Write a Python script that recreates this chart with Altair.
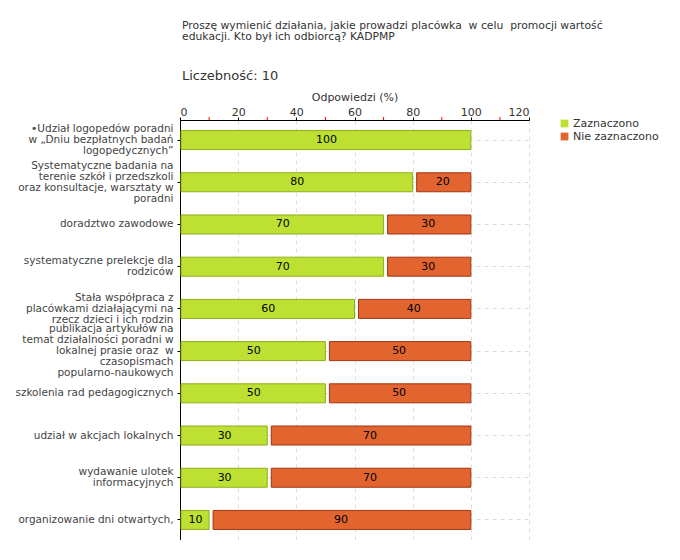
import altair as alt
import pandas as pd

categories = [
    "•Udział logopedów poradni|w „Dniu bezpłatnych badań|logopedycznych”",
    "Systematyczne badania na|terenie szkół i przedszkoli|oraz konsultacje, warsztaty w|poradni",
    "doradztwo zawodowe",
    "systematyczne prelekcje dla|rodziców",
    "Stała współpraca z|placówkami działającymi na|rzecz dzieci i ich rodzin",
    "publikacja artykułów na|temat działalności poradni w|lokalnej prasie oraz \u00a0w|czasopismach|popularno-naukowych",
    "szkolenia rad pedagogicznych",
    "udział w akcjach lokalnych",
    "wydawanie ulotek|informacyjnych",
    "organizowanie dni otwartych,",
]
zaznaczono = [100, 80, 70, 70, 60, 50, 50, 30, 30, 10]
nie_zaznaczono = [0, 20, 30, 30, 40, 50, 50, 70, 70, 90]
series = ["Zaznaczono", "Nie zaznaczono"]
fills = ["#BEE032", "#E26530"]
strokes = ["#8DAE1C", "#A33410"]
minor_ticks = [10, 30, 50, 70, 90, 110]

rows = []
for c, z, n in zip(categories, zaznaczono, nie_zaznaczono):
    rows.append({"cat": c, "series": series[0], "value": z, "start": 0, "end": z})
    if n > 0:
        rows.append({"cat": c, "series": series[1], "value": n, "start": z, "end": z + n})
df = pd.DataFrame(rows)
df["mid"] = (df["start"] + df["end"]) / 2

FONT = "DejaVu Sans"
LH = 11

xscale = alt.Scale(domain=[0, 120], nice=False)
yscale = alt.Scale(domain=categories, paddingInner=0.55, paddingOuter=0.25)

xenc = alt.X(
    "start:Q",
    scale=xscale,
    axis=alt.Axis(
        orient="top",
        title="Odpowiedzi (%)",
        values=[0, 20, 40, 60, 80, 100, 120],
        grid=True,
        gridDash=[4, 4],
        gridColor="#dddddd",
        domainColor="#000000",
        tickColor="#000000",
        tickSize=3,
        labelFont=FONT,
        labelFontSize=11,
        labelColor="#333333",
        titleFont=FONT,
        titleFontSize=11,
        titleFontWeight="normal",
        titleColor="#333333",
        titlePadding=4,
        labelPadding=0,
    ),
)

offset_cond = {
    "condition": [
        {"test": f"length(split(datum.value, '|')) == {n}", "value": -(n - 1) * LH / 2}
        for n in (2, 3, 4, 5)
    ],
    "value": 0,
}

yenc = alt.Y(
    "cat:N",
    scale=yscale,
    sort=categories,
    axis=alt.Axis(
        title=None,
        labelExpr="split(datum.label, '|')",
        labelFont=FONT,
        labelFontSize=10.5,
        labelColor="#444444",
        labelLimit=175,
        labelPadding=4,
        labelLineHeight=LH,
        labelOffset=offset_cond,
        grid=True,
        gridDash=[4, 4],
        gridColor="#dddddd",
        domainColor="#000000",
        tickColor="#000000",
        tickSize=3,
    ),
)

color = alt.Color(
    "series:N",
    scale=alt.Scale(domain=series, range=fills),
    legend=alt.Legend(
        title=None,
        orient="none",
        legendX=379,
        legendY=-2,
        symbolType="square",
        symbolSize=60,
        symbolStrokeWidth=0,
        labelFont=FONT,
        labelFontSize=11,
        labelColor="#333333",
        labelOffset=3,
        rowPadding=1,
    ),
)
stroke = alt.Stroke(
    "series:N", scale=alt.Scale(domain=series, range=strokes), legend=None
)

base = alt.Chart(df)

green = base.transform_filter(alt.datum.series == series[0]).mark_bar(
    xOffset=1, strokeWidth=1
).encode(x=xenc, x2="end:Q", y=yenc, color=color, stroke=stroke)

orange = base.transform_filter(alt.datum.series == series[1]).mark_bar(
    xOffset=4, strokeWidth=1
).encode(x=xenc, x2="end:Q", y=yenc, color=color, stroke=stroke)

labels = base.mark_text(
    font=FONT, fontSize=11, color="#000000", baseline="middle", align="center", dx=1
).encode(x=alt.X("mid:Q", scale=xscale), y=alt.Y("cat:N", scale=yscale, sort=categories), text="value:Q")

minor = alt.Chart(pd.DataFrame({"t": minor_ticks})).mark_rule(
    color="#ff0000", strokeWidth=1
).encode(x=alt.X("t:Q", scale=xscale), y=alt.value(-3), y2=alt.value(0))

chart = (
    alt.layer(green, orange, labels, minor)
    .properties(
        width=349,
        height=420,
        autosize=alt.AutoSizeParams(type="none"),
        padding={"left": 172, "top": 112, "right": 140, "bottom": 0},
        title=alt.Title(
            [
                "Proszę wymienić działania, jakie prowadzi placówka \u00a0w celu \u00a0promocji wartość",
                "edukacji. Kto był ich odbiorcą? KADPMP",
            ],
            subtitle="Liczebność: 10",
            anchor="start",
            frame="group",
            font=FONT,
            fontSize=10.8,
            fontWeight="normal",
            color="#333333",
            lineHeight=11,
            subtitleFont=FONT,
            subtitleFontSize=13,
            subtitleColor="#333333",
            subtitlePadding=28,
            offset=8,
            dx=2,
        ),
    )
    .configure_view(stroke=None)
    .configure_axis(domainWidth=1)
)

chart.save("out.html", embed_options={"renderer": "svg", "actions": False})
